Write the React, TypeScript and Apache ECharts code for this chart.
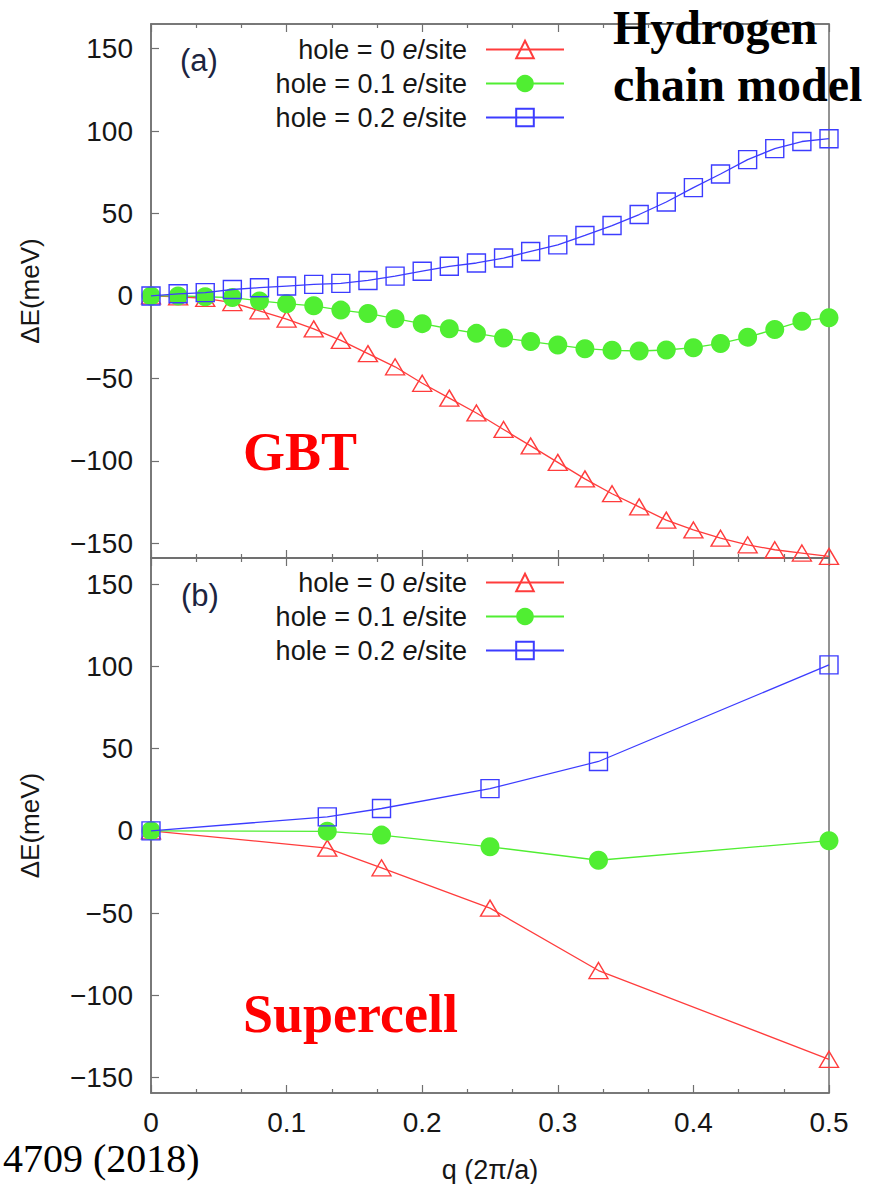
import React, { useEffect, useRef } from 'react';
import * as echarts from 'echarts';

const seriesNames = ['hole = 0 e/site', 'hole = 0.1 e/site', 'hole = 0.2 e/site'];
const seriesColors = ['#ff3c3c', '#50ee32', '#3c3cff'];

// Panel (a): GBT
const qGBT = [0, 0.02, 0.04, 0.06, 0.08, 0.1, 0.12, 0.14, 0.16, 0.18, 0.2, 0.22, 0.24, 0.26, 0.28, 0.3, 0.32, 0.34, 0.36, 0.38, 0.4, 0.42, 0.44, 0.46, 0.48, 0.5];
const gbtHole0 = [0, -0.5, -1.5, -4, -9, -14, -20, -27, -35, -43, -53, -62, -71, -81, -91, -101, -111, -120, -128, -136, -142, -147, -151, -154, -156, -158];
const gbtHole01 = [0, 0, -0.5, -1, -3, -4.7, -6, -8.6, -10.6, -13.8, -16.8, -19.9, -22.7, -25.5, -27.7, -29.8, -32, -33, -33.4, -32.8, -31.4, -28.8, -25, -20.3, -15.3, -13.2];
const gbtHole02 = [0, 1.3, 2, 3.9, 5, 6, 7, 7.6, 9.4, 12, 15, 18, 20, 23, 27, 31, 36.7, 42.7, 49.4, 57, 65.7, 74, 82.7, 89.4, 93.7, 95.4];

// Panel (b): Supercell
const qSuper = [0, 0.13, 0.17, 0.25, 0.33, 0.5];
const superHole0 = [0, -10.5, -22.5, -47, -85, -139];
const superHole01 = [0, -0.3, -2.6, -9.7, -17.9, -6];
const superHole02 = [0, 8.5, 13.6, 25.7, 42.2, 101];

const xTickStep = 0.1;
const yTickStep = 50;

const SANS = 'Liberation Sans, Arimo, Helvetica, Arial, sans-serif';
const SERIF = 'Liberation Serif, Times New Roman, serif';
const AXIS_COLOR = '#707070';
const TEXT_COLOR = '#161616';

const symbolFor = (k: number) => (k === 0 ? 'triangle' : k === 1 ? 'circle' : 'rect');
const sizeFor = (k: number) => (k === 0 ? [19, 16] : k === 1 ? 19 : 18);

function makeSeries(k: number, xs: number[], ys: number[], idx: number) {
  const color = seriesColors[k];
  return {
    type: 'line',
    name: seriesNames[k],
    xAxisIndex: idx * 2,
    yAxisIndex: idx,
    data: xs.map((x, i) => [x, ys[i]]),
    symbol: symbolFor(k),
    symbolSize: sizeFor(k),
    showAllSymbol: true,
    clip: false,
    lineStyle: { color, width: 1.3 },
    itemStyle:
      k === 1
        ? { color, borderWidth: 0 }
        : { color: 'rgba(0,0,0,0)', borderColor: color, borderWidth: 1.4 },
    emphasis: { disabled: true },
    z: 3 + k,
  };
}

function xAxisFor(gridIndex: number, position: 'top' | 'bottom', labels: boolean) {
  return {
    type: 'value',
    gridIndex,
    position,
    min: 0,
    max: 0.5,
    interval: xTickStep,
    axisLine: { show: true, onZero: false, lineStyle: { color: AXIS_COLOR, width: 1.5 } },
    axisTick: { show: true, inside: true, length: 8, lineStyle: { color: AXIS_COLOR, width: 1.2 } },
    minorTick: { show: true, splitNumber: 3, length: 4, lineStyle: { color: AXIS_COLOR, width: 1.2 } },
    splitLine: { show: false },
    axisLabel: {
      show: labels,
      fontSize: 28,
      fontFamily: SANS,
      color: TEXT_COLOR,
      margin: 15,
      formatter: (v: number) => String(Math.round(v * 10) / 10),
    },
    name: labels ? 'q (2\u03c0/a)' : '',
    nameLocation: 'middle',
    nameGap: 63,
    nameTextStyle: { fontSize: 27, fontFamily: SANS, color: TEXT_COLOR },
  };
}

function yAxisFor(gridIndex: number, min: number, max: number) {
  return {
    type: 'value',
    gridIndex,
    min,
    max,
    minInterval: yTickStep,
    maxInterval: yTickStep,
    axisLine: { show: true, onZero: false, lineStyle: { color: AXIS_COLOR, width: 1.5 } },
    axisTick: { show: true, inside: true, length: 8, lineStyle: { color: AXIS_COLOR, width: 1.2 } },
    splitLine: { show: false },
    axisLabel: {
      fontSize: 28,
      fontFamily: SANS,
      color: TEXT_COLOR,
      margin: 18,
      showMinLabel: false,
      showMaxLabel: false,
      formatter: (v: number) => (Math.abs(v % yTickStep) < 1e-6 ? String(v).replace('-', '\u2212') : ''),
    },
    name: '\u0394E(meV)',
    nameLocation: 'middle',
    nameGap: 108,
    nameTextStyle: { fontSize: 26, fontFamily: SANS, color: TEXT_COLOR },
  };
}

const legendRichBase = { fontSize: 27, fontFamily: SANS, color: TEXT_COLOR, lineHeight: 22 };

function legendFor(top: number) {
  return {
    orient: 'vertical',
    right: 311,
    top,
    padding: 0,
    align: 'right',
    itemWidth: 78,
    itemHeight: 22,
    itemGap: 7,
    selectedMode: false,
    data: seriesNames,
    formatter: (name: string) => {
      const base = name.replace(' e/site', '');
      return `{n|${base} }{i|e}{s|/site}`;
    },
    textStyle: {
      ...legendRichBase,
      rich: {
        n: { ...legendRichBase },
        i: { ...legendRichBase, fontStyle: 'italic' },
        s: { ...legendRichBase, padding: [0, 14, 0, 0] },
      },
    },
  };
}

export default function App() {
  const ref = useRef<HTMLDivElement>(null);

  useEffect(() => {
    if (!ref.current) return;
    const chart = echarts.init(ref.current, undefined, { renderer: 'svg' });
    const option = {
      animation: false,
      backgroundColor: '#ffffff',
      grid: [
        { left: 151, right: 47, top: 24, height: 534, show: true, borderColor: AXIS_COLOR, borderWidth: 1.5, backgroundColor: 'rgba(0,0,0,0)' },
        { left: 151, right: 47, top: 558, height: 535, show: true, borderColor: AXIS_COLOR, borderWidth: 1.5, backgroundColor: 'rgba(0,0,0,0)' },
      ],
      xAxis: [
        xAxisFor(0, 'bottom', false),
        xAxisFor(0, 'top', false),
        xAxisFor(1, 'bottom', true),
        xAxisFor(1, 'top', false),
      ],
      yAxis: [yAxisFor(0, -159, 165), yAxisFor(1, -159.5, 166)],
      legend: [legendFor(36), legendFor(569)],
      series: [
        makeSeries(0, qGBT, gbtHole0, 0),
        makeSeries(1, qGBT, gbtHole01, 0),
        makeSeries(2, qGBT, gbtHole02, 0),
        makeSeries(0, qSuper, superHole0, 1),
        makeSeries(1, qSuper, superHole01, 1),
        makeSeries(2, qSuper, superHole02, 1),
      ],
      graphic: [
        { type: 'text', x: 180, y: 60, z: 10, style: { text: '(a)', font: `31px ${SANS}`, fill: '#1c2440', align: 'left', verticalAlign: 'middle' } },
        { type: 'text', x: 181, y: 595, z: 10, style: { text: '(b)', font: `31px ${SANS}`, fill: '#1c2440', align: 'left', verticalAlign: 'middle' } },
        { type: 'text', x: 613, y: 27, z: 10, style: { text: 'Hydrogen', font: `bold 48px ${SERIF}`, fill: '#000', align: 'left', verticalAlign: 'middle' } },
        { type: 'text', x: 613, y: 84, z: 10, style: { text: 'chain model', font: `bold 48px ${SERIF}`, fill: '#000', align: 'left', verticalAlign: 'middle' } },
        { type: 'text', x: 243, y: 452, z: 10, style: { text: 'GBT', font: `bold 54px ${SERIF}`, fill: '#ff0000', align: 'left', verticalAlign: 'middle' } },
        { type: 'text', x: 243, y: 1014, z: 10, style: { text: 'Supercell', font: `bold 54px ${SERIF}`, fill: '#ff0000', align: 'left', verticalAlign: 'middle' } },
        { type: 'text', x: 3, y: 1158, z: 10, style: { text: '4709 (2018)', font: `40px ${SERIF}`, fill: '#000', align: 'left', verticalAlign: 'middle' } },
      ],
    };
    chart.setOption(option as any);
    return () => chart.dispose();
  }, []);

  return (
    <div
      ref={ref}
      style={{ position: 'fixed', left: 0, top: 0, width: 876, height: 1184, background: '#fff' }}
    />
  );
}
